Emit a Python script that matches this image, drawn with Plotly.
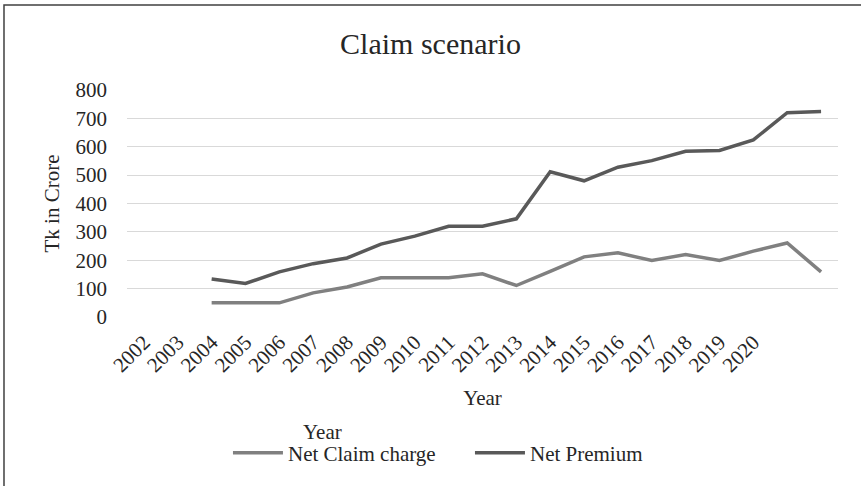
import plotly.graph_objects as go

years = [str(y) for y in range(2002, 2023)]
tick_labels = [str(y) for y in range(2002, 2021)] + ["", ""]
net_claim_charge = [None, None, 50, 50, 50, 85, 106, 138, 138, 138, 152, 111, 161, 212, 226, 199, 220, 199, 232, 261, 159]
net_premium = [None, None, 134, 118, 159, 188, 208, 257, 285, 320, 320, 346, 512, 480, 528, 551, 584, 587, 624, 720, 724]

FONT = "Liberation Serif"
TXT = "#262626"

fig = go.Figure()
fig.add_trace(go.Scatter(x=years, y=net_claim_charge, mode="lines", name="Net Claim charge",
                         line=dict(color="#808080", width=3.5)))
fig.add_trace(go.Scatter(x=years, y=net_premium, mode="lines", name="Net Premium",
                         line=dict(color="#595959", width=3.5)))

fig.update_layout(
    width=861, height=486,
    margin=dict(l=127, r=23, t=90, b=169),
    paper_bgcolor="white", plot_bgcolor="white",
    font=dict(family=FONT, color=TXT, size=21),
    title=dict(text="Claim scenario", x=0.5, xanchor="center", y=0.91, yanchor="middle",
               font=dict(family=FONT, size=30, color=TXT)),
    xaxis=dict(type="category", tickmode="array", tickvals=years, ticktext=tick_labels,
               range=[-0.5, len(years) - 0.5],
               tickangle=-45, showgrid=False, showline=False, zeroline=False,
               tickfont=dict(size=21), ticklabelstandoff=8,
               title=dict(text="Year", font=dict(size=21), standoff=14)),
    yaxis=dict(range=[0, 800], dtick=100, showgrid=True, gridcolor="#d9d9d9", gridwidth=1.3,
               zeroline=False, showline=False, tickfont=dict(size=21),
               ticklabelstandoff=19,
               title=dict(text="Tk in Crore", font=dict(size=21), standoff=10)),
    showlegend=True,
    legend=dict(orientation="h", x=0.142, xanchor="left", y=-0.60, yanchor="middle",
                font=dict(size=21), itemwidth=50, entrywidth=177, entrywidthmode="pixels",
                bgcolor="rgba(0,0,0,0)"),
    shapes=[dict(type="rect", xref="paper", yref="paper", x0=-0.173, x1=1.2, y0=-1.5, y1=1.374,
                 line=dict(color="#404040", width=1.5), fillcolor="rgba(0,0,0,0)", layer="above")],
    annotations=[dict(text="Year", xref="paper", yref="paper", x=0.275, y=-0.507,
                      xanchor="center", yanchor="middle", showarrow=False,
                      font=dict(size=21, family=FONT, color=TXT))],
)

fig.write_html("out.html", config={"displayModeBar": False},
               post_script="document.body.style.margin='0';")
